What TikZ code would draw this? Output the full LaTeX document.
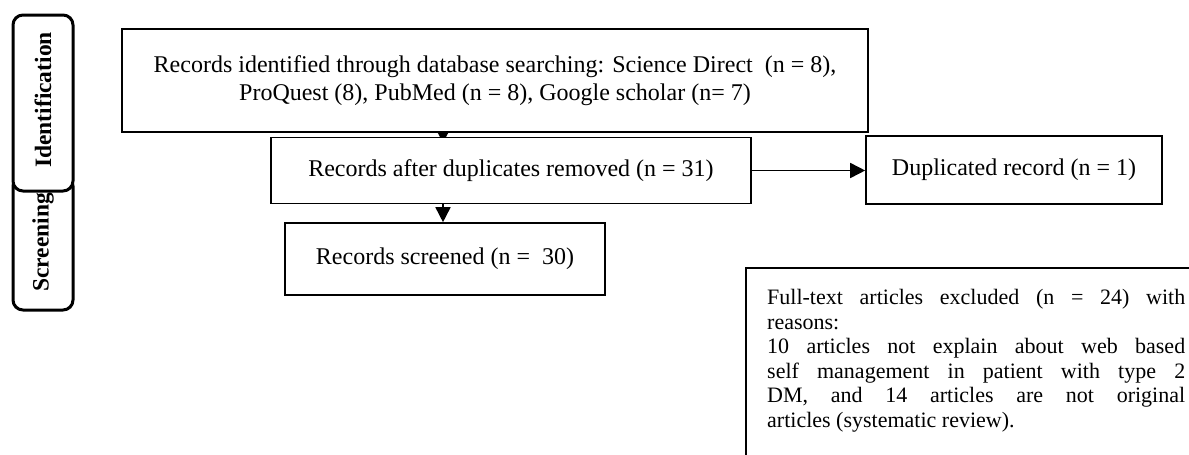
\documentclass[tikz,border=0pt]{standalone}
\usepackage{fontspec}
\setmainfont{Liberation Serif}
\usetikzlibrary{arrows.meta,positioning,fit,backgrounds}

\tikzset{
  box/.style={draw, line width=1.6pt, fill=white, inner sep=0pt, align=center,
    font=\fontsize{24}{27.6}\selectfont},
  tab/.style={draw, line width=3pt, rounded corners=10pt, fill=white,
    minimum width=60pt},
  tablabel/.style={rotate=90, inner sep=0pt, font=\fontsize{23.5}{26}\selectfont\bfseries},
}

\begin{document}
\begin{tikzpicture}[x=1pt, y=-1pt, >={Triangle[length=15pt,width=15pt]}]
  \useasboundingbox (0,0) rectangle (1189,455);
  \clip (0,0) rectangle (1189,455);
  % stage tabs on the left
  \node[tab, minimum height=134pt] (scrtab) at (43,243) {};
  \node[tab, minimum height=176pt] (idtab) at (43,103) {};
  \node[tablabel] (idlbl) at (43,100) {Identification};
  \node[tablabel] (scrlbl) at (43,242.5) {Screening};
  % flow boxes
  \node[box, minimum width=746pt, minimum height=103pt] (srch) at (495,80.5)
    {Records identified through database searching: Science Direct~~(n = 8),\\
     ProQuest (8), PubMed (n = 8), Google scholar (n= 7)};
  \node[box, minimum width=480pt, minimum height=66pt] (dedup) at (511,170.5)
    {Records after duplicates removed (n = 31)};
  \node[box, minimum width=296pt, minimum height=68pt] (dupl) at (1014,170)
    {Duplicated record (n = 1)};
  \node[box, minimum width=320pt, minimum height=72pt] (scrd) at (445,259)
    {Records screened (n =\ \ 30)};
  % exclusion box, runs past the page edge
  \node[draw, line width=1.6pt, inner sep=0pt, fit={(746,268) (1215,480)}] (exclbox) {};
  \node[anchor=north west, text width=418pt, align=justify, inner sep=0pt,
    font=\fontsize{22}{24.5}\selectfont] (excl) at (767,289.5)
    {Full-text articles excluded (n = 24) with\linebreak reasons:\par
     10 articles not explain about web based\linebreak
     self management in patient with type 2\linebreak
     DM, and 14 articles are not original\linebreak
     articles (systematic review).};
  \coordinate (axis) at (443,0);
  \coordinate (tipend) at (443,143);
  \begin{scope}[on background layer]
    \path[->, line width=1.6pt]
      (srch.south -| axis) edge (tipend);
  \end{scope}
  \path[->, line width=1.6pt]
    (dedup.south -| axis) edge (scrd.north -| axis)
    (dedup.east) edge (dedup.east -| dupl.west);
\end{tikzpicture}
\end{document}
